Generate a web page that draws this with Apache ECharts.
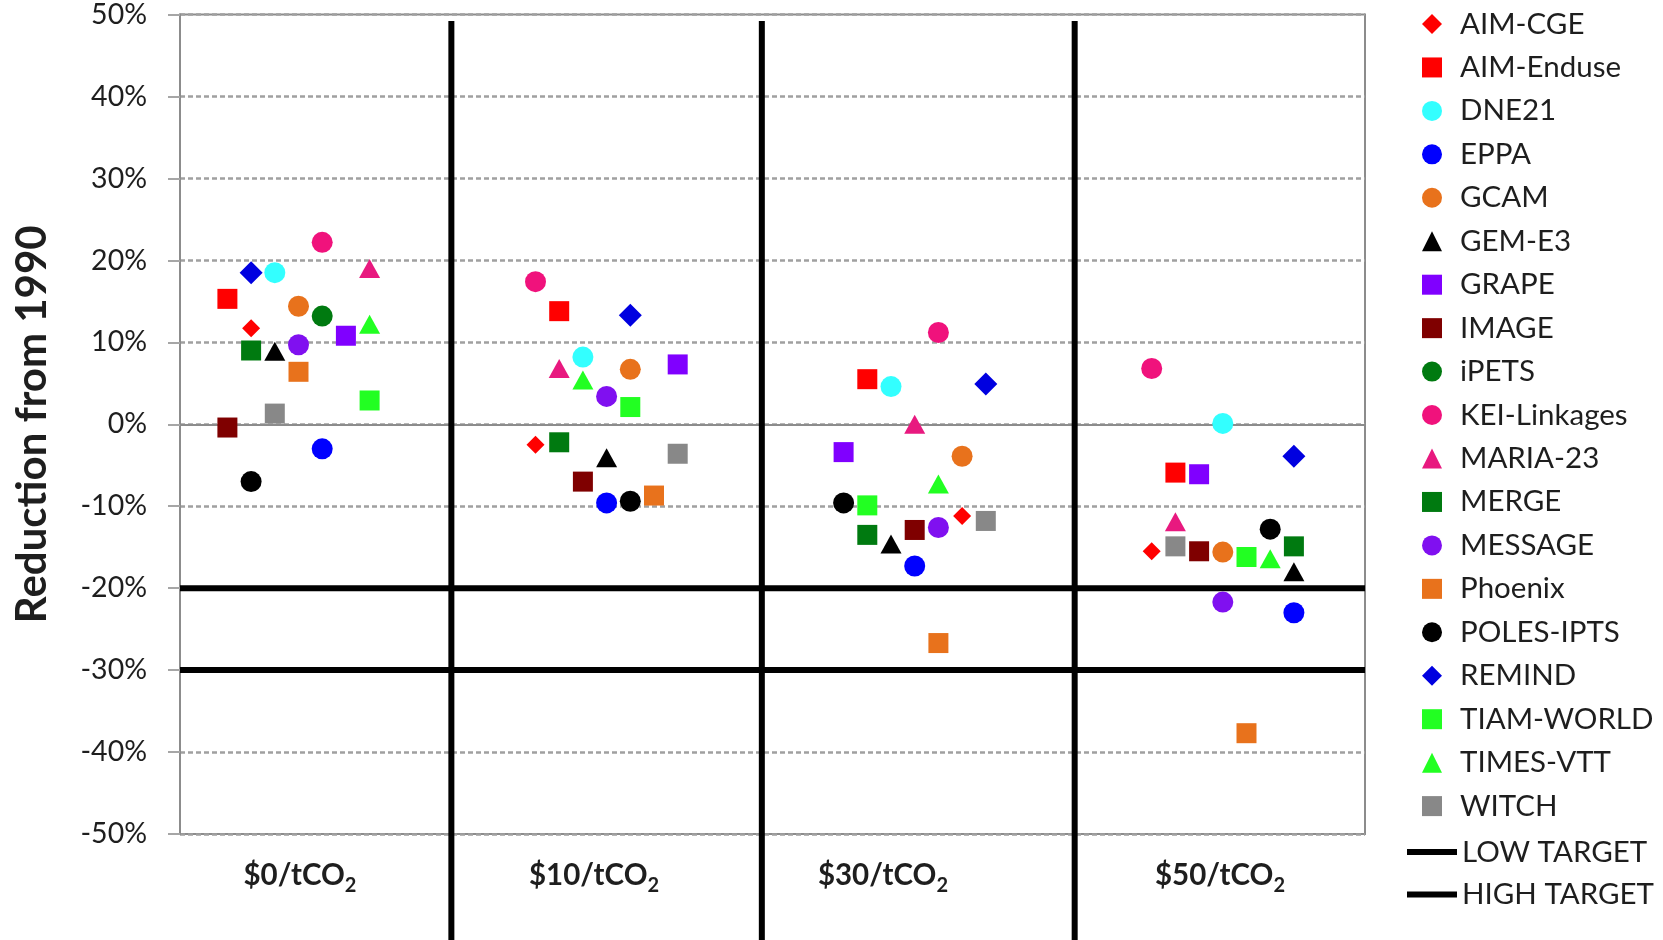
<!DOCTYPE html>
<html>
<head>
<meta charset="utf-8">
<title>Reduction from 1990 by carbon price</title>
<script src="https://cdn.jsdelivr.net/npm/echarts@6.0.0/dist/echarts.min.js"></script>
<style>
  html, body { margin: 0; padding: 0; background: #fff; }
  #chart { width: 1663px; height: 940px; }
</style>
</head>
<body>
<div id="chart"></div>
<script>
// models, in legend order
const models = ['AIM-CGE', 'AIM-Enduse', 'DNE21', 'EPPA', 'GCAM', 'GEM-E3', 'GRAPE', 'IMAGE', 'iPETS',
  'KEI-Linkages', 'MARIA-23', 'MERGE', 'MESSAGE', 'Phoenix', 'POLES-IPTS', 'REMIND', 'TIAM-WORLD', 'TIMES-VTT', 'WITCH'];
const colors = ['#ff0000', '#ff0000', '#33ffff', '#0000ff', '#e8721c', '#000000', '#8000ff', '#7f0000', '#007a10',
  '#f0127c', '#e8197f', '#007a10', '#8010f0', '#e8721c', '#000000', '#0000e0', '#22ff22', '#22ff22', '#888888'];
const symbols = ['diamond', 'rect', 'circle', 'circle', 'circle', 'triangle', 'rect', 'rect', 'circle',
  'circle', 'triangle', 'rect', 'circle', 'rect', 'circle', 'diamond', 'rect', 'triangle', 'rect'];

// carbon price groups (x axis runs 0..50, each group uses 7 slots)
const priceLabels = ['$0', '$10', '$30', '$50'];
const priceLabelX = [5.06, 17.47, 29.66, 43.88];
const dividerX = [11.45, 24.55, 37.75];

// x slot of each model in each group
const slot0 = [3, 2, 4, 6, 5, 4, 7, 2, 6, 6, 8, 3, 5, 5, 3, 3, 8, 8, 4];
const slot10 = [15, 16, 17, 18, 19, 18, 21, 17, null, 15, 16, 16, 18, 20, 19, 19, 19, 17, 21];
const slot30 = [33, 29, 30, 31, 33, 30, 28, 31, null, 32, 31, 29, 32, 32, 28, 34, 29, 32, 34];
const slot50 = [41, 42, 44, 47, 44, 47, 43, 43, null, 41, 42, 47, 44, 45, 46, 47, 45, 46, 42];

// reduction from 1990 (%), null = no result
const red0 = [11.7, 15.3, 18.5, -3.0, 14.4, 8.9, 10.8, -0.4, 13.2, 22.2, 19.0, 9.0, 9.7, 6.4, -7.0, 18.5, 2.9, 12.2, 1.3];
const red10 = [-2.5, 13.8, 8.2, -9.6, 6.7, -4.1, 7.3, -7.0, null, 17.4, 6.8, -2.2, 3.4, -8.7, -9.4, 13.3, 2.1, 5.4, -3.6];
const red30 = [-11.2, 5.5, 4.6, -17.3, -3.9, -14.6, -3.4, -12.9, null, 11.2, 0.0, -13.5, -12.6, -26.7, -9.6, 4.9, -9.9, -7.3, -11.8];
const red50 = [-15.5, -5.9, 0.1, -23.0, -15.6, -18.0, -6.1, -15.5, null, 6.8, -11.9, -14.9, -21.7, -37.7, -12.8, -3.9, -16.2, -16.4, -14.9];

const targetNames = ['LOW TARGET', 'HIGH TARGET'];
const targetValues = [-20, -30];

const FONT = 'Lato';
const TEXT = '#1e1e1e';

function symbolSize(i) {
  if (symbols[i] === 'diamond') return models[i] === 'REMIND' ? 23 : 18;
  if (symbols[i] === 'triangle') return [21, 19];
  if (symbols[i] === 'circle') return 21;
  return 20;
}

const slots = [slot0, slot10, slot30, slot50];
const reds = [red0, red10, red30, red50];

const series = models.map((name, i) => {
  const data = [];
  for (let g = 0; g < 4; g++) {
    if (reds[g][i] !== null) data.push([slots[g][i], reds[g][i]]);
  }
  return {
    name: name,
    type: 'scatter',
    data: data,
    symbol: symbols[i],
    symbolSize: symbolSize(i),
    itemStyle: { color: colors[i], opacity: 1 },
    emphasis: { disabled: true },
    z: 5
  };
});

// group dividers, running past the bottom of the plot
dividerX.forEach((x) => {
  series.push({
    type: 'line',
    data: [[x, 49.2], [x, -64]],
    symbol: 'none',
    clip: false,
    silent: true,
    lineStyle: { color: '#000', width: 6 },
    z: 4
  });
});

targetNames.forEach((name, k) => {
  series.push({
    name: name,
    type: 'line',
    data: [[0, targetValues[k]], [50, targetValues[k]]],
    symbol: 'none',
    itemStyle: { color: '#000' },
    lineStyle: { color: '#000', width: 6 },
    z: 4
  });
});

const chart = echarts.init(document.getElementById('chart'));

chart.setOption({
  animation: false,
  backgroundColor: '#fff',
  textStyle: { fontFamily: FONT },
  grid: {
    left: 180,
    right: 298,
    top: 14,
    bottom: 106,
    containLabel: false,
    show: true,
    borderColor: '#8c8c8c',
    borderWidth: 2
  },
  legend: [
    {
      orient: 'vertical',
      left: 1422,
      top: 9,
      padding: 0,
      itemWidth: 20,
      itemHeight: 20,
      itemGap: 13.45,
      selectedMode: false,
      data: models,
      textStyle: { fontFamily: FONT, fontSize: 29.5, lineHeight: 30, color: TEXT, padding: [0, 0, 0, 13] }
    },
    {
      orient: 'vertical',
      left: 1407,
      top: 837,
      padding: 0,
      itemWidth: 50,
      itemHeight: 6,
      itemGap: 12.45,
      selectedMode: false,
      icon: 'rect',
      data: targetNames,
      textStyle: { fontFamily: FONT, fontSize: 29.5, lineHeight: 30, color: TEXT }
    }
  ],
  xAxis: {
    type: 'value',
    min: 0,
    max: 50,
    axisLine: { show: true, lineStyle: { color: '#8c8c8c', width: 2 } },
    axisTick: { show: false },
    splitLine: { show: false },
    axisLabel: {
      customValues: priceLabelX,
      margin: 26,
      formatter: (v) => {
        const idx = priceLabelX.indexOf(v);
        return '{b|' + priceLabels[idx] + '/tCO}{s|2}';
      },
      rich: {
        b: { fontFamily: FONT, fontWeight: 'bold', fontSize: 29.5, lineHeight: 31, verticalAlign: 'top', color: TEXT },
        s: { fontFamily: FONT, fontWeight: 'bold', fontSize: 20, lineHeight: 20, padding: [16, 0, 0, 0], verticalAlign: 'top', color: TEXT }
      }
    }
  },
  yAxis: {
    type: 'value',
    min: -50,
    max: 50,
    interval: 10,
    name: 'Reduction from 1990',
    nameLocation: 'middle',
    nameGap: 127,
    nameTextStyle: { fontFamily: FONT, fontWeight: 'bold', fontSize: 42, color: TEXT },
    axisLine: { show: true, lineStyle: { color: '#8c8c8c', width: 2 } },
    axisTick: { show: true, length: 12, lineStyle: { color: '#a6a6a6', width: 2 } },
    axisLabel: {
      formatter: '{value}%',
      margin: 33,
      fontFamily: FONT,
      fontSize: 28.5,
      color: TEXT
    },
    splitLine: { show: true, lineStyle: { color: '#a0a0a0', width: 2.5, type: [5, 3] } }
  },
  series: series
});
</script>
</body>
</html>
